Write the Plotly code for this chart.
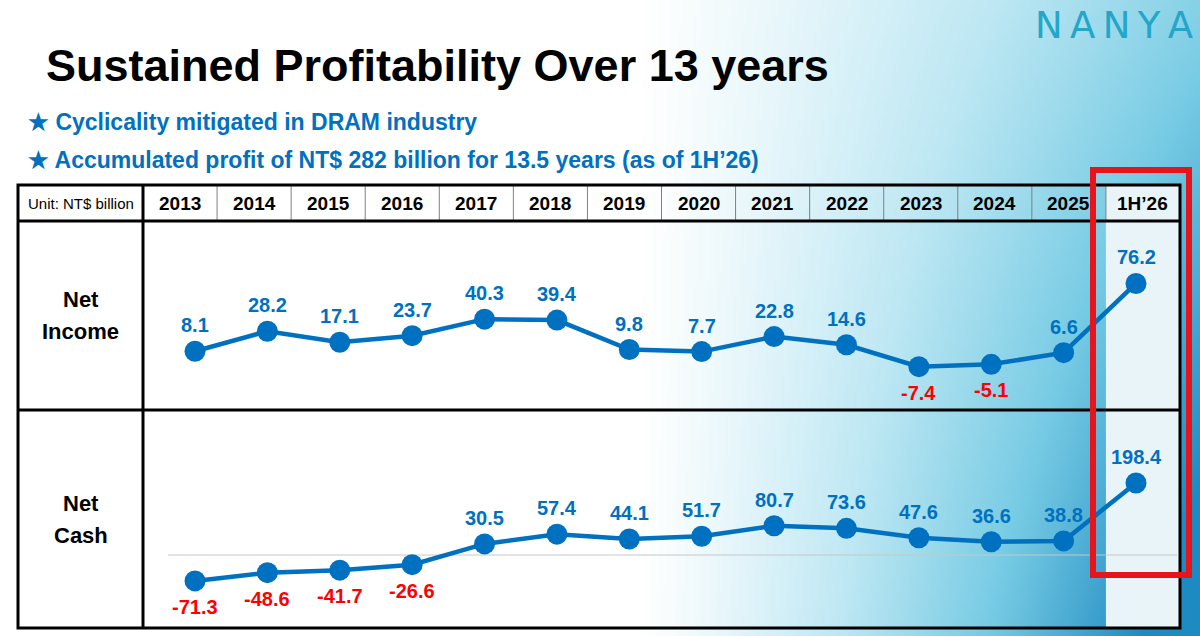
import base64
import struct
import zlib

import numpy as np
import plotly.graph_objects as go

# ---------------- data ----------------
periods = ["2013", "2014", "2015", "2016", "2017", "2018", "2019", "2020",
           "2021", "2022", "2023", "2024", "2025", "1H’26"]
net_income = [8.1, 28.2, 17.1, 23.7, 40.3, 39.4, 9.8, 7.7, 22.8, 14.6, -7.4, -5.1, 6.6, 76.2]
net_cash = [-71.3, -48.6, -41.7, -26.6, 30.5, 57.4, 44.1, 51.7, 80.7, 73.6, 47.6, 36.6, 38.8, 198.4]
row_labels = [["Net", "Income"], ["Net", "Cash"]]
unit_label = "Unit: NT$ billion"
title_text = "Sustained Profitability Over 13 years"
bullets = ["Cyclicality mitigated in DRAM industry",
           "Accumulated profit of NT$ 282 billion for 13.5 years (as of 1H’26)"]

# ---------------- geometry / style ----------------
W, H = 1200, 636
BLUE = "#0070C0"
RED = "#FF0000"
FONT = "Liberation Sans, Arial, sans-serif"

T_LEFT, T_RIGHT = 18, 1180
T_TOP, HDR_BOT, ROW_SEP, T_BOT = 185, 221, 410, 628
LBL_COL = 143
N = len(periods)
COL_W = (T_RIGHT - LBL_COL) / N


def px(x):
    return x / W


def py(y):
    return 1 - y / H


# background gradient image
gh, gw = 159, 300
yy, xx = np.mgrid[0:gh, 0:gw]
X = xx * (W / gw)
Y = yy * (H / gh)
base = np.clip((X - 640) / 560, 0, 1) ** 1.15
t = np.clip(base * (0.58 + 0.55 * Y / H), 0, 1)
stops_t = [0.0, 0.35, 0.65, 1.0]
stops_c = np.array([[255, 255, 255], [188, 231, 243], [118, 203, 228], [30, 138, 194]], float)
img = np.zeros((gh, gw, 3))
for c in range(3):
    img[..., c] = np.interp(t, stops_t, stops_c[:, c])
img = img.astype(np.uint8)


def to_png(a):
    h, w, _ = a.shape
    raw = b"".join(b"\x00" + a[r].tobytes() for r in range(h))

    def chunk(tag, data):
        return struct.pack(">I", len(data)) + tag + data + struct.pack(">I", zlib.crc32(tag + data) & 0xFFFFFFFF)

    png = (b"\x89PNG\r\n\x1a\n" + chunk(b"IHDR", struct.pack(">IIBBBBB", w, h, 8, 2, 0, 0, 0))
           + chunk(b"IDAT", zlib.compress(raw, 9)) + chunk(b"IEND", b""))
    return "data:image/png;base64," + base64.b64encode(png).decode()


fig = go.Figure()

for series, xa, ya in [(net_income, "x", "y"), (net_cash, "x2", "y2")]:
    fig.add_trace(go.Scatter(
        x=periods, y=series, xaxis=xa, yaxis=ya, mode="lines+markers",
        line=dict(color=BLUE, width=4.5),
        marker=dict(size=21, color=BLUE),
        hoverinfo="x+y", showlegend=False,
    ))

annotations = []
for series, xa, ya in [(net_income, "x", "y"), (net_cash, "x2", "y2")]:
    for i, v in enumerate(series):
        # category axis: numeric x is the category index
        annotations.append(dict(
            x=i, y=v, xref=xa, yref=ya, text=f"<b>{v:.1f}</b>", showarrow=False,
            xanchor="center", yanchor="middle",
            yshift=26 if v >= 0 else -26,
            font=dict(family=FONT, size=20, color=BLUE if v >= 0 else RED),
        ))


def paper_text(x, y, text, size, color="black", xanchor="center", family=FONT):
    return dict(x=px(x), y=py(y), xref="paper", yref="paper", text=text, showarrow=False,
                xanchor=xanchor, yanchor="middle", font=dict(family=family, size=size, color=color))


# header texts
annotations.append(paper_text((T_LEFT + LBL_COL) / 2, (T_TOP + HDR_BOT) / 2, unit_label, 15))
for i, p in enumerate(periods):
    annotations.append(paper_text(LBL_COL + COL_W * (i + 0.5), (T_TOP + HDR_BOT) / 2 + 1, f"<b>{p}</b>", 19))

# row labels
for (top, bot), lines in zip([(HDR_BOT, ROW_SEP), (ROW_SEP, T_BOT)], row_labels):
    mid = (top + bot) / 2
    for k, ln in enumerate(lines):
        annotations.append(paper_text((T_LEFT + LBL_COL) / 2, mid - 16 + 32 * k, f"<b>{ln}</b>", 22))

# title, bullets, logo
annotations.append(paper_text(44, 65, f"<b>{title_text}</b>", 45, xanchor="left"))
for k, b in enumerate(bullets):
    annotations.append(paper_text(26, 122 + 38 * k, f"<b>★ {b}</b>", 23, color=BLUE, xanchor="left"))
annotations.append(paper_text(1195, 25, "N\u2009A\u2009N\u2009Y\u2009A", 37, color="#22A7C9",
                              xanchor="right", family="DejaVu Sans, sans-serif"))

shapes = []
# white label column, light last column
shapes.append(dict(type="rect", xref="paper", yref="paper", x0=px(T_LEFT), x1=px(LBL_COL),
                   y0=py(T_BOT), y1=py(T_TOP), fillcolor="white", line=dict(width=0), layer="below"))
shapes.append(dict(type="rect", xref="paper", yref="paper", x0=px(LBL_COL + COL_W * (N - 1)), x1=px(T_RIGHT),
                   y0=py(T_BOT), y1=py(T_TOP), fillcolor="#E9F4F9", line=dict(width=0), layer="below"))
# zero line for net cash
shapes.append(dict(type="line", xref="paper", yref="y2", x0=px(168), x1=px(1177), y0=0, y1=0,
                   line=dict(color="#C8C8C8", width=1), layer="below"))
# header column dividers
for i in range(1, N):
    xx_ = px(LBL_COL + COL_W * i)
    shapes.append(dict(type="line", xref="paper", yref="paper", x0=xx_, x1=xx_, y0=py(HDR_BOT), y1=py(T_TOP),
                       line=dict(color="#808080", width=1), layer="above"))
# thick table lines
for yv in [HDR_BOT, ROW_SEP]:
    shapes.append(dict(type="line", xref="paper", yref="paper", x0=px(T_LEFT), x1=px(T_RIGHT),
                       y0=py(yv), y1=py(yv), line=dict(color="black", width=3), layer="above"))
shapes.append(dict(type="line", xref="paper", yref="paper", x0=px(LBL_COL), x1=px(LBL_COL),
                   y0=py(T_BOT), y1=py(T_TOP), line=dict(color="black", width=3), layer="above"))
shapes.append(dict(type="rect", xref="paper", yref="paper", x0=px(T_LEFT), x1=px(T_RIGHT),
                   y0=py(T_BOT), y1=py(T_TOP), line=dict(color="black", width=3), layer="above"))
# red highlight box
shapes.append(dict(type="rect", xref="paper", yref="paper", x0=px(1093), x1=px(1189),
                   y0=py(575), y1=py(170), line=dict(color="#E8141B", width=6), layer="above"))

# axes: 2013 point at x=195px, 1H'26 point at x=1136px
step = (1136 - 195) / (N - 1)
x_lo = (LBL_COL - 195) / step
x_hi = (T_RIGHT - 195) / step
ax_common = dict(visible=False, showgrid=False, zeroline=False, type="category",
                 range=[x_lo, x_hi], domain=[px(LBL_COL), px(T_RIGHT)], fixedrange=True)

fig.update_layout(
    width=W, height=H, autosize=False,
    margin=dict(l=0, r=0, t=0, b=0),
    paper_bgcolor="white", plot_bgcolor="rgba(0,0,0,0)",
    xaxis=dict(**ax_common, anchor="y"),
    xaxis2=dict(**ax_common, anchor="y2"),
    yaxis=dict(visible=False, showgrid=False, zeroline=False, range=[-51, 139],
               domain=[py(ROW_SEP), py(HDR_BOT)], anchor="x", fixedrange=True),
    yaxis2=dict(visible=False, showgrid=False, zeroline=False, range=[-201, 399.4],
                domain=[py(T_BOT), py(ROW_SEP)], anchor="x2", fixedrange=True),
    annotations=annotations,
    shapes=shapes,
    images=[dict(source=to_png(img), xref="paper", yref="paper", x=0, y=1, sizex=1, sizey=1,
                 xanchor="left", yanchor="top", sizing="stretch", layer="below")],
    font=dict(family=FONT),
)

fig.write_html("out.html")
